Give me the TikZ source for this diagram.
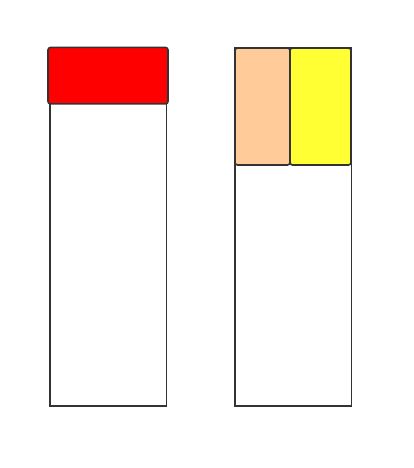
\documentclass[tikz,border=0pt]{standalone}
\usepackage{xcolor}
\usepackage{tikz}
\usetikzlibrary{positioning}

\definecolor{edgegray}{HTML}{333333}
\definecolor{peach}{HTML}{FFCC99}
\definecolor{lemon}{HTML}{FFFF33}

\begin{document}
\begin{tikzpicture}[
            x=1pt, y=-1pt,
            column/.style={draw=edgegray, line width=1.6pt, fill=white, inner sep=0pt,
                minimum width=116.7pt, minimum height=358pt},
            slot/.style={draw=edgegray, line width=1.6pt, rounded corners=2.5pt, inner sep=0pt},
        ]
        \useasboundingbox (0, 0) rectangle (414, 468);
        % two columns, boxes stacked at the top
        \node[column] (colLeft) at (108.3, 227) {};
        \node[column] (colRight) at (293.3, 227) {};
        \node[slot, fill=red, minimum width=120pt, minimum height=56.5pt] (redBox) at (108, 75.7) {};
        \node[slot, fill=peach, minimum width=55pt, minimum height=117pt] (peachBox) at (262.5, 106.5) {};
        \node[slot, fill=lemon, minimum width=61pt, minimum height=117pt] (lemonBox) at (320.5, 106.5) {};
    \end{tikzpicture}
\end{document}
